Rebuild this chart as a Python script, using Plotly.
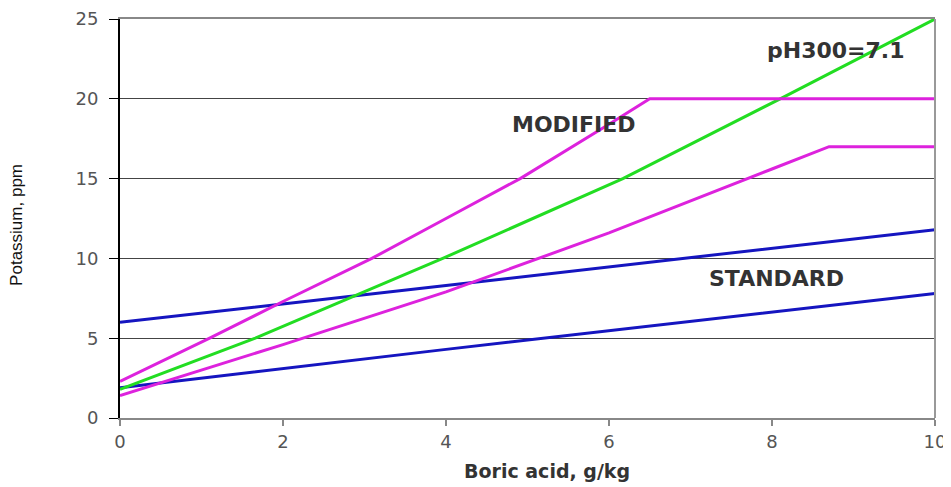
import plotly.graph_objects as go

# Data
mod_hi_x = [0, 1.1, 2, 3.09, 4, 4.91, 6, 6.5, 10]
mod_hi_y = [2.3, 5.0, 7.3, 10.0, 12.5, 15.0, 18.4, 20.0, 20.0]

mod_lo_x = [0, 2, 4, 6, 8, 8.7, 10]
mod_lo_y = [1.4, 4.6, 7.9, 11.6, 15.6, 17.0, 17.0]

ph_x = [0, 1.66, 3.96, 6.17, 8.1, 10]
ph_y = [1.8, 5.0, 10.0, 15.0, 20.0, 25.0]

std_hi_x = [0, 4, 10]
std_hi_y = [6.0, 8.3, 11.8]

std_lo_x = [0, 4, 10]
std_lo_y = [1.9, 4.3, 7.8]

x_ticks = [0, 2, 4, 6, 8, 10]
y_ticks = [0, 5, 10, 15, 20, 25]

labels = ["pH300=7.1", "MODIFIED", "STANDARD"]
label_x = [8.79, 5.57, 8.06]
label_y = [23.0, 18.4, 8.77]

x_title = "Boric acid, g/kg"
y_title = "Potassium, ppm"

MAG = "#DD22DD"
GRN = "#22DD22"
BLU = "#1515C0"

fig = go.Figure()
for xs, ys, c in [
    (std_lo_x, std_lo_y, BLU),
    (std_hi_x, std_hi_y, BLU),
    (mod_lo_x, mod_lo_y, MAG),
    (ph_x, ph_y, GRN),
    (mod_hi_x, mod_hi_y, MAG),
]:
    fig.add_trace(go.Scatter(x=xs, y=ys, mode="lines",
                             line=dict(color=c, width=3), showlegend=False,
                             hoverinfo="skip"))

font_ann = dict(family="DejaVu Sans", size=22, color="#333333")
for t, ax, ay in zip(labels, label_x, label_y):
    fig.add_annotation(x=ax, y=ay, text="<b>" + t + "</b>", showarrow=False, font=font_ann)

# axis titles (placed as in the reference)
fig.add_annotation(xref="paper", yref="paper", x=0.524, y=0, yanchor="middle",
                   yshift=-53, text="<b>" + x_title + "</b>", showarrow=False,
                   font=dict(family="DejaVu Sans", size=19, color="#333333"))
fig.add_annotation(xref="paper", yref="paper", x=0, y=0.484, xanchor="center",
                   xshift=-103, textangle=-90, text=y_title, showarrow=False,
                   font=dict(family="Liberation Sans", size=17, color="#111111"))

# right border of the frame
fig.add_shape(type="line", xref="paper", yref="paper", x0=1, x1=1, y0=0, y1=1,
              line=dict(color="#999999", width=2))

fig.update_layout(
    width=943, height=487,
    margin=dict(l=112, r=16, t=11, b=77),
    paper_bgcolor="white", plot_bgcolor="white",
    font=dict(family="DejaVu Sans", color="#555555"),
    xaxis=dict(range=[0, 10], tickvals=x_ticks, showgrid=False, zeroline=False,
               automargin=False,
               showline=True, linecolor="#888888", linewidth=2, mirror=True,
               ticks="outside", ticklen=6, tickcolor="#888888", tickwidth=2,
               tickfont=dict(family="DejaVu Sans", size=18, color="#555555")),
    yaxis=dict(range=[0, 25], tickvals=y_ticks, showgrid=True, gridcolor="#444444",
               gridwidth=1, zeroline=False, automargin=False,
               showline=True, linecolor="#000000", linewidth=2,
               ticks="outside", ticklen=9, tickcolor="#000000", tickwidth=1,
               ticklabelstandoff=7,
               tickfont=dict(family="DejaVu Sans", size=18, color="#555555")),
)

fig.write_html("out.html")
